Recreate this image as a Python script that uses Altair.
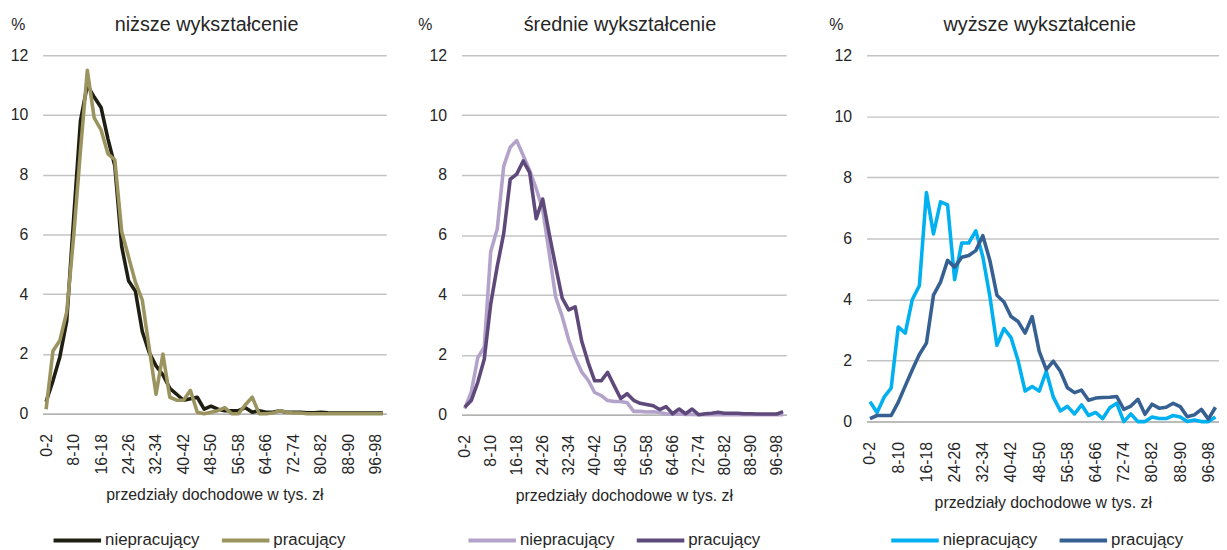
import altair as alt
import pandas as pd

# income brackets (thousand PLN)
categories = [
    "0-2", "2-4", "4-6", "6-8", "8-10", "10-12", "12-14", "14-16", "16-18", "18-20",
    "20-22", "22-24", "24-26", "26-28", "28-30", "30-32", "32-34", "34-36", "36-38", "38-40",
    "40-42", "42-44", "44-46", "46-48", "48-50", "50-52", "52-54", "54-56", "56-58", "58-60",
    "60-62", "62-64", "64-66", "66-68", "68-70", "70-72", "72-74", "74-76", "76-78", "78-80",
    "80-82", "82-84", "84-86", "86-88", "88-90", "90-92", "92-94", "94-96", "96-98", "98-100",
]
tick_labels = categories[::4]
y_ticks = [0, 2, 4, 6, 8, 10, 12]
series_names = ["niepracujący", "pracujący"]

# niższe wykształcenie
nizsze_niepracujacy = [
    0.4, 1.1, 1.9, 3.1, 6.5, 9.8, 11.0, 10.6, 10.25, 9.2,
    8.3, 5.6, 4.45, 4.1, 2.75, 2.05, 1.6, 1.3, 0.85, 0.65,
    0.45, 0.5, 0.55, 0.15, 0.25, 0.15, 0.1, 0.1, 0.1, 0.2,
    0.05, 0.1, 0.05, 0.05, 0.1, 0.05, 0.05, 0.05, 0.03, 0.03,
    0.05, 0.03, 0.02, 0.02, 0.02, 0.02, 0.02, 0.02, 0.02, 0.02,
]
nizsze_pracujacy = [
    0.15, 2.1, 2.45, 3.4, 5.9, 8.8, 11.5, 9.9, 9.5, 8.7,
    8.5, 6.1, 5.25, 4.4, 3.8, 2.2, 0.65, 2.0, 0.55, 0.45,
    0.45, 0.78, 0.05, 0.0, 0.05, 0.1, 0.2, 0.0, 0.0, 0.3,
    0.55, 0.0, 0.0, 0.02, 0.1, 0.05, 0.02, 0.02, 0.0, 0.0,
    0.0, 0.0, 0.0, 0.0, 0.0, 0.0, 0.0, 0.0, 0.0, 0.0,
]

# średnie wykształcenie
srednie_niepracujacy = [
    0.2, 0.75, 1.9, 2.25, 5.45, 6.2, 8.3, 8.93, 9.15, 8.65,
    8.15, 7.55, 6.85, 5.4, 3.92, 3.28, 2.5, 1.9, 1.43, 1.15,
    0.74, 0.64, 0.47, 0.44, 0.44, 0.4, 0.11, 0.11, 0.09, 0.1,
    0.07, 0.03, 0.02, 0.02, 0.01, 0.01, 0.0, 0.0, 0.0, 0.0,
    0.0, 0.0, 0.0, 0.0, 0.0, 0.0, 0.0, 0.0, 0.0, 0.0,
]
srednie_pracujacy = [
    0.25, 0.47, 1.08, 1.85, 3.7, 4.95, 6.05, 7.86, 8.03, 8.47,
    8.08, 6.54, 7.2, 6.04, 4.94, 3.89, 3.5, 3.6, 2.46, 1.74,
    1.13, 1.13, 1.41, 0.97, 0.54, 0.7, 0.48, 0.38, 0.34, 0.3,
    0.17, 0.27, 0.03, 0.19, 0.03, 0.19, 0.0, 0.03, 0.05, 0.08,
    0.05, 0.05, 0.05, 0.03, 0.03, 0.02, 0.02, 0.02, 0.02, 0.1,
]

# wyższe wykształcenie
wyzsze_niepracujacy = [
    0.65, 0.3, 0.8, 1.1, 3.1, 2.9, 4.0, 4.45, 7.5, 6.15,
    7.2, 7.1, 4.65, 5.85, 5.85, 6.25, 5.4, 4.1, 2.5, 3.05,
    2.75, 2.0, 1.0, 1.15, 1.0, 1.65, 0.8, 0.35, 0.5, 0.25,
    0.55, 0.2, 0.3, 0.1, 0.45, 0.6, 0.0, 0.25, 0.0, 0.0,
    0.15, 0.1, 0.1, 0.2, 0.15, 0.0, 0.05, 0.0, 0.0, 0.15,
]
wyzsze_pracujacy = [
    0.1, 0.2, 0.2, 0.2, 0.63, 1.17, 1.7, 2.2, 2.57, 4.14,
    4.57, 5.28, 5.06, 5.38, 5.44, 5.6, 6.09, 5.28, 4.14, 3.92,
    3.44, 3.28, 2.9, 3.44, 2.3, 1.7, 1.98, 1.65, 1.11, 0.95,
    1.03, 0.7, 0.77, 0.79, 0.8, 0.82, 0.4, 0.51, 0.73, 0.24,
    0.57, 0.44, 0.47, 0.6, 0.49, 0.16, 0.22, 0.4, 0.08, 0.47,
]

FONT = "Liberation Sans"
TEXT = "#262626"


def panel(title, nonwork, work, colors, width, height, pct_x, legend_x, title_dx):
    df = pd.DataFrame({
        "przedzial": categories + categories,
        "wartosc": nonwork + work,
        "grupa": [series_names[0]] * len(categories) + [series_names[1]] * len(categories),
    })
    return alt.Chart(
        df,
        title=alt.Title(title, fontSize=20, fontWeight="normal", font=FONT, color=TEXT,
                        anchor="middle", frame="group", offset=-19, dx=title_dx),
    ).mark_line(strokeWidth=3.6, strokeJoin="round").encode(
        x=alt.X("przedzial:N", sort=categories,
                scale=alt.Scale(type="point", padding=0.5),
                axis=alt.Axis(values=tick_labels, labelAngle=-90, labelFontSize=16,
                              labelPadding=20, ticks=False, tickSize=0, domain=True,
                              domainColor="#b3b3b3", domainWidth=1.5, grid=False,
                              labelColor=TEXT, labelFont=FONT,
                              title="przedziały dochodowe w tys. zł", titleFontSize=16,
                              titleFontWeight="normal", titleFont=FONT, titleColor=TEXT,
                              titlePadding=13)),
        y=alt.Y("wartosc:Q", scale=alt.Scale(domain=[0, 12]),
                axis=alt.Axis(values=y_ticks, grid=True, gridColor="#c4c4c4", gridWidth=1.5,
                              domain=False, ticks=False, tickSize=0, labelPadding=15,
                              labelFontSize=16, labelColor=TEXT, labelFont=FONT,
                              title="%", titleAngle=0, titleX=pct_x, titleY=-31,
                              titleAlign="center", titleBaseline="middle",
                              titleFontSize=16, titleFontWeight="normal", titleFont=FONT,
                              titleColor=TEXT)),
        color=alt.Color("grupa:N", sort=series_names,
                        scale=alt.Scale(domain=series_names, range=colors),
                        legend=alt.Legend(title=None, orient="none", legendX=legend_x,
                                          legendY=480, direction="horizontal",
                                          symbolType="stroke", symbolSize=2304,
                                          symbolStrokeWidth=4, clipHeight=20,
                                          labelFontSize=17, labelFont=FONT,
                                          labelColor=TEXT, labelOffset=2,
                                          columnPadding=20)),
    ).properties(width=width, height=height)


p1 = panel("niższe wykształcenie", nizsze_niepracujacy, nizsze_pracujacy,
           ["#1f1e12", "#9b945f"], 347, 362, -25, 9, -8)
p2 = panel("średnie wykształcenie", srednie_niepracujacy, srednie_pracujacy,
           ["#b3a2c9", "#5f497a"], 328, 363, -37, 5, -4)
p3 = panel("wyższe wykształcenie", wyzsze_niepracujacy, wyzsze_pracujacy,
           ["#00b0f0", "#376092"], 356, 370, -31, 23, -3)

left_pair = alt.hconcat(p1, p2, spacing=31).resolve_scale(color="independent")

chart = alt.hconcat(left_pair, p3, spacing=42).resolve_scale(
    color="independent"
).properties(
    padding={"left": 2, "top": 5, "right": 0, "bottom": 0},
    background="white",
).configure_view(stroke=None)

chart.save("out.html", embed_options={"renderer": "svg", "actions": False})
